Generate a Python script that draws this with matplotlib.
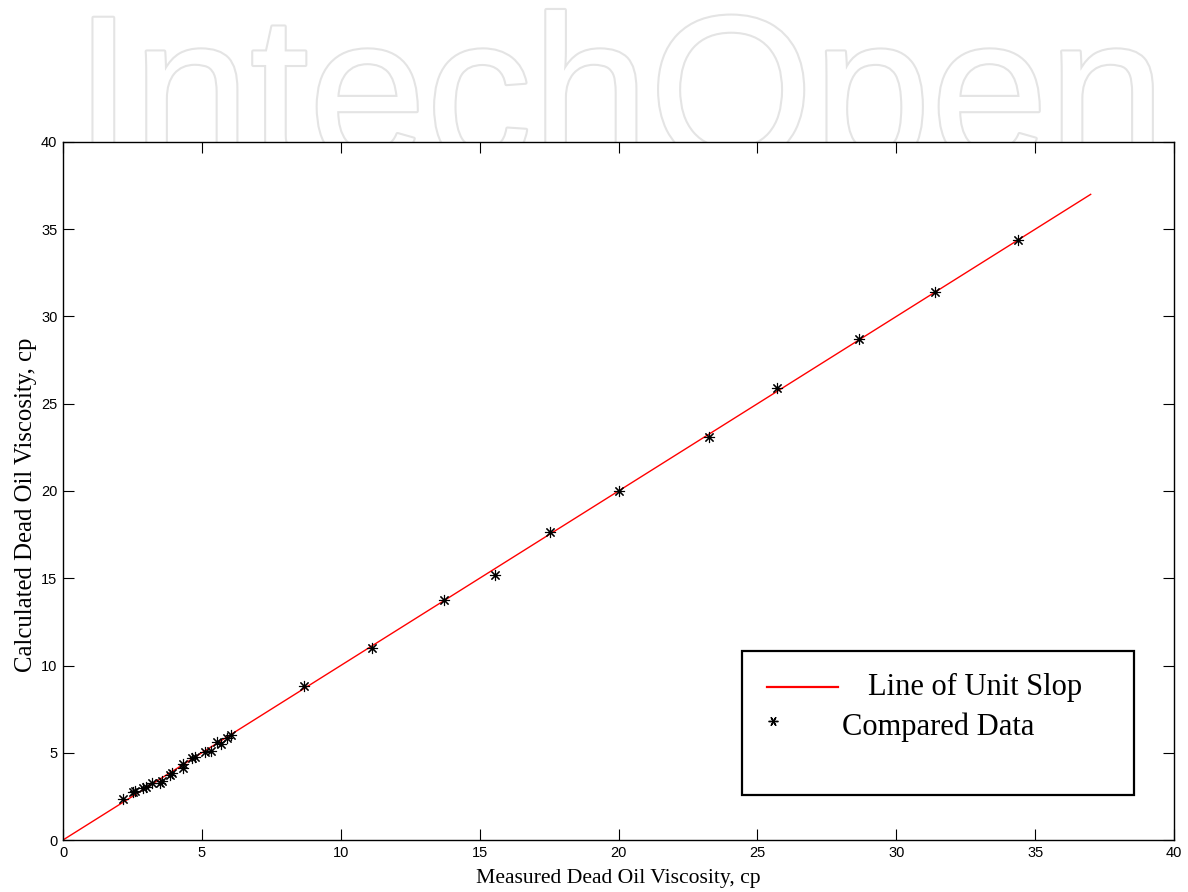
import matplotlib
matplotlib.use("Agg")
import matplotlib.pyplot as plt
import matplotlib.patheffects as pe
from matplotlib.patches import Rectangle
from matplotlib.lines import Line2D

# ---- data ----
measured = [2.15, 2.53, 2.58, 2.89, 2.98, 3.19, 3.49, 3.55, 3.85, 3.92,
            4.31, 4.33, 4.63, 4.75, 5.11, 5.32, 5.53, 5.69, 5.89, 6.04,
            8.68, 11.13, 13.72, 15.55, 17.53, 20.02, 23.26, 25.71, 28.66,
            31.40, 34.38]
calculated = [2.33, 2.73, 2.80, 2.96, 3.05, 3.28, 3.25, 3.38, 3.72, 3.82,
              4.34, 4.14, 4.68, 4.77, 5.02, 5.12, 5.63, 5.49, 5.86, 6.02,
              8.83, 11.00, 13.75, 15.19, 17.65, 20.00, 23.09, 25.90, 28.71,
              31.40, 34.38]
unit_x = [0, 37]
unit_y = [0, 37]
ticks = [0, 5, 10, 15, 20, 25, 30, 35, 40]
legend_labels = ["Line of Unit Slop", "Compared Data"]
watermark = "IntechOpen"

W, H = 1188, 892
fig = plt.figure(figsize=(W / 100, H / 100), dpi=100)
fig.patch.set_facecolor("white")

# ---- watermark (outlined light text behind the axes) ----
fig.text(1166 / W, (H - 163) / H, watermark, family="Liberation Sans",
         fontsize=152, color="white", ha="right", va="baseline", zorder=-10,
         path_effects=[pe.withStroke(linewidth=3, foreground="#e4e4e4")])

# ---- axes ----
ax = fig.add_axes([63 / W, (H - 840) / H, (1174 - 63) / W, (840 - 142) / H])
ax.set_facecolor("white")
ax.plot(unit_x, unit_y, color="red", lw=1.0, zorder=2)
ax.plot(measured, calculated, linestyle="none", marker=(8, 2, 0),
        markersize=8, markeredgewidth=0.8, color="black", zorder=3)

ax.set_xlim(0, 40)
ax.set_ylim(0, 40)
ax.set_xticks(ticks)
ax.set_yticks(ticks)
ax.set_xticklabels([str(v) for v in ticks], family="Liberation Sans", fontsize=10.5)
ax.set_yticklabels([str(v) for v in ticks], family="Liberation Sans", fontsize=10.5)
ax.tick_params(direction="in", top=True, right=True, length=8, width=0.8,
               colors="black")
ax.tick_params(axis="x", pad=4.5)
ax.tick_params(axis="y", pad=4)
for s in ax.spines.values():
    s.set_linewidth(1.0)
    s.set_color("black")

ax.set_xlabel("Measured Dead Oil Viscosity, cp", family="Liberation Serif",
              fontsize=15.6)
ax.xaxis.set_label_coords(0.4995, -0.041)
ax.set_ylabel("Calculated Dead Oil Viscosity, cp", family="Liberation Serif",
              fontsize=17.8)
ax.yaxis.set_label_coords(-0.0234, 0.48)

# ---- custom legend box ----
ax.add_patch(Rectangle((0.611, 0.0645), 0.964 - 0.611, 0.2708 - 0.0645,
                       transform=ax.transAxes, facecolor="white",
                       edgecolor="black", lw=1.6, zorder=5))
ax.add_line(Line2D([0.6337, 0.6976], [0.2192, 0.2192], transform=ax.transAxes,
                   color="red", lw=1.6, zorder=6))
ax.add_line(Line2D([0.639], [0.170], transform=ax.transAxes, linestyle="none",
                   marker=(6, 2, 90), markersize=7, markeredgewidth=1.0,
                   color="black", zorder=6))
ax.text(0.7246, 0.2192, legend_labels[0], transform=ax.transAxes,
        family="Liberation Serif", fontsize=22, va="center", ha="left", zorder=6)
ax.text(0.7012, 0.1619, legend_labels[1], transform=ax.transAxes,
        family="Liberation Serif", fontsize=22, va="center", ha="left", zorder=6)

fig.savefig("out.png", dpi=100, facecolor="white")
